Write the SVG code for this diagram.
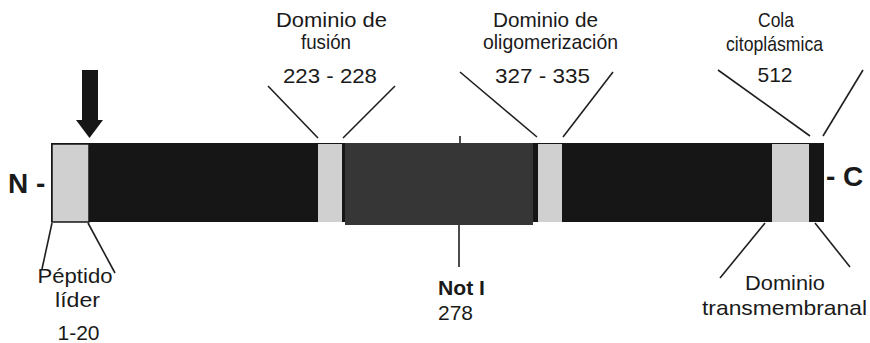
<svg xmlns="http://www.w3.org/2000/svg" width="870" height="343" viewBox="0 0 870 343">
<style>
  .lbl { font-family: "Liberation Sans", Arial, sans-serif; font-size: 21px; fill: #1a1a1a; text-anchor: middle; }
  .term { font-family: "Liberation Sans", Arial, sans-serif; font-size: 28px; font-weight: bold; fill: #1a1a1a; }
  .ln { stroke: #1f1f1f; stroke-width: 1.6; fill: none; }
  .light { fill: #d0d0d0; }
</style>
<rect width="870" height="343" fill="#ffffff"/>

<g id="protein-bar">
  <rect x="51" y="143" width="773" height="79" fill="#161616"/>
</g>
<g id="notI-region">
  <rect x="345" y="143" width="188" height="82" fill="#363636"/>
</g>
<g id="peptido-lider">
  <rect x="52" y="144" width="37" height="78" class="light" stroke="#161616" stroke-width="1.5"/>
  <text class="lbl" x="75" y="283" textLength="75" lengthAdjust="spacingAndGlyphs">Péptido</text>
  <text class="lbl" x="77.5" y="307" textLength="45" lengthAdjust="spacingAndGlyphs">líder</text>
  <text class="lbl" x="78.5" y="340">1-20</text>
</g>
<g id="dominio-fusion">
  <rect x="318" y="144" width="24" height="78" class="light"/>
  <text class="lbl" x="331.5" y="27" textLength="111" lengthAdjust="spacingAndGlyphs">Dominio de</text>
  <text class="lbl" x="326" y="49" textLength="50" lengthAdjust="spacingAndGlyphs">fusión</text>
  <text class="lbl" x="330" y="83" textLength="94" lengthAdjust="spacingAndGlyphs">223 - 228</text>
</g>
<g id="dominio-oligomerizacion">
  <rect x="538" y="144" width="24" height="78" class="light"/>
  <text class="lbl" x="545.5" y="27" textLength="105" lengthAdjust="spacingAndGlyphs">Dominio de</text>
  <text class="lbl" x="550.5" y="49" textLength="135" lengthAdjust="spacingAndGlyphs">oligomerización</text>
  <text class="lbl" x="542.5" y="83" textLength="95" lengthAdjust="spacingAndGlyphs">327 - 335</text>
</g>
<g id="dominio-transmembranal">
  <rect x="772" y="144" width="37" height="78" class="light"/>
  <text class="lbl" x="785" y="290" textLength="80" lengthAdjust="spacingAndGlyphs">Dominio</text>
  <text class="lbl" x="784.5" y="315" textLength="165" lengthAdjust="spacingAndGlyphs">transmembranal</text>
</g>
<g id="cola-citoplasmica">
  <text class="lbl" x="776" y="27" textLength="36" lengthAdjust="spacingAndGlyphs">Cola</text>
  <text class="lbl" x="774.5" y="51" textLength="97" lengthAdjust="spacingAndGlyphs">citoplásmica</text>
  <text class="lbl" x="775" y="82">512</text>
</g>
<g id="not-I">
  <text class="lbl" x="438" y="295" style="text-anchor:start;font-weight:bold" textLength="47" lengthAdjust="spacingAndGlyphs">Not I</text>
  <text class="lbl" x="438" y="320" style="text-anchor:start">278</text>
</g>
<g id="N-terminal">
  <text class="term" x="8" y="193">N -</text>
</g>
<g id="C-terminal">
  <text class="term" x="826" y="186">- C</text>
</g>
<g id="cleavage-arrow">
  <polygon points="82,70 98,70 98,120 103,120 89.5,138 76,120 82,120" fill="#161616"/>
</g>

<g id="connectors">
  <line class="ln" x1="52" y1="223" x2="42" y2="269"/>
  <line class="ln" x1="88" y1="223" x2="115" y2="273"/>
  <line class="ln" x1="268" y1="86" x2="318" y2="138"/>
  <line class="ln" x1="395" y1="86" x2="343" y2="138"/>
  <line class="ln" x1="460" y1="72" x2="537" y2="137"/>
  <line class="ln" x1="613" y1="72" x2="563" y2="137"/>
  <line class="ln" x1="718" y1="70" x2="810" y2="136"/>
  <line class="ln" x1="863" y1="70" x2="823" y2="136"/>
  <line class="ln" x1="765" y1="223" x2="720" y2="278"/>
  <line class="ln" x1="815" y1="223" x2="850" y2="267"/>
  <line class="ln" x1="460" y1="136" x2="460" y2="143"/>
  <line class="ln" x1="459" y1="225" x2="459" y2="267"/>
</g>
</svg>
